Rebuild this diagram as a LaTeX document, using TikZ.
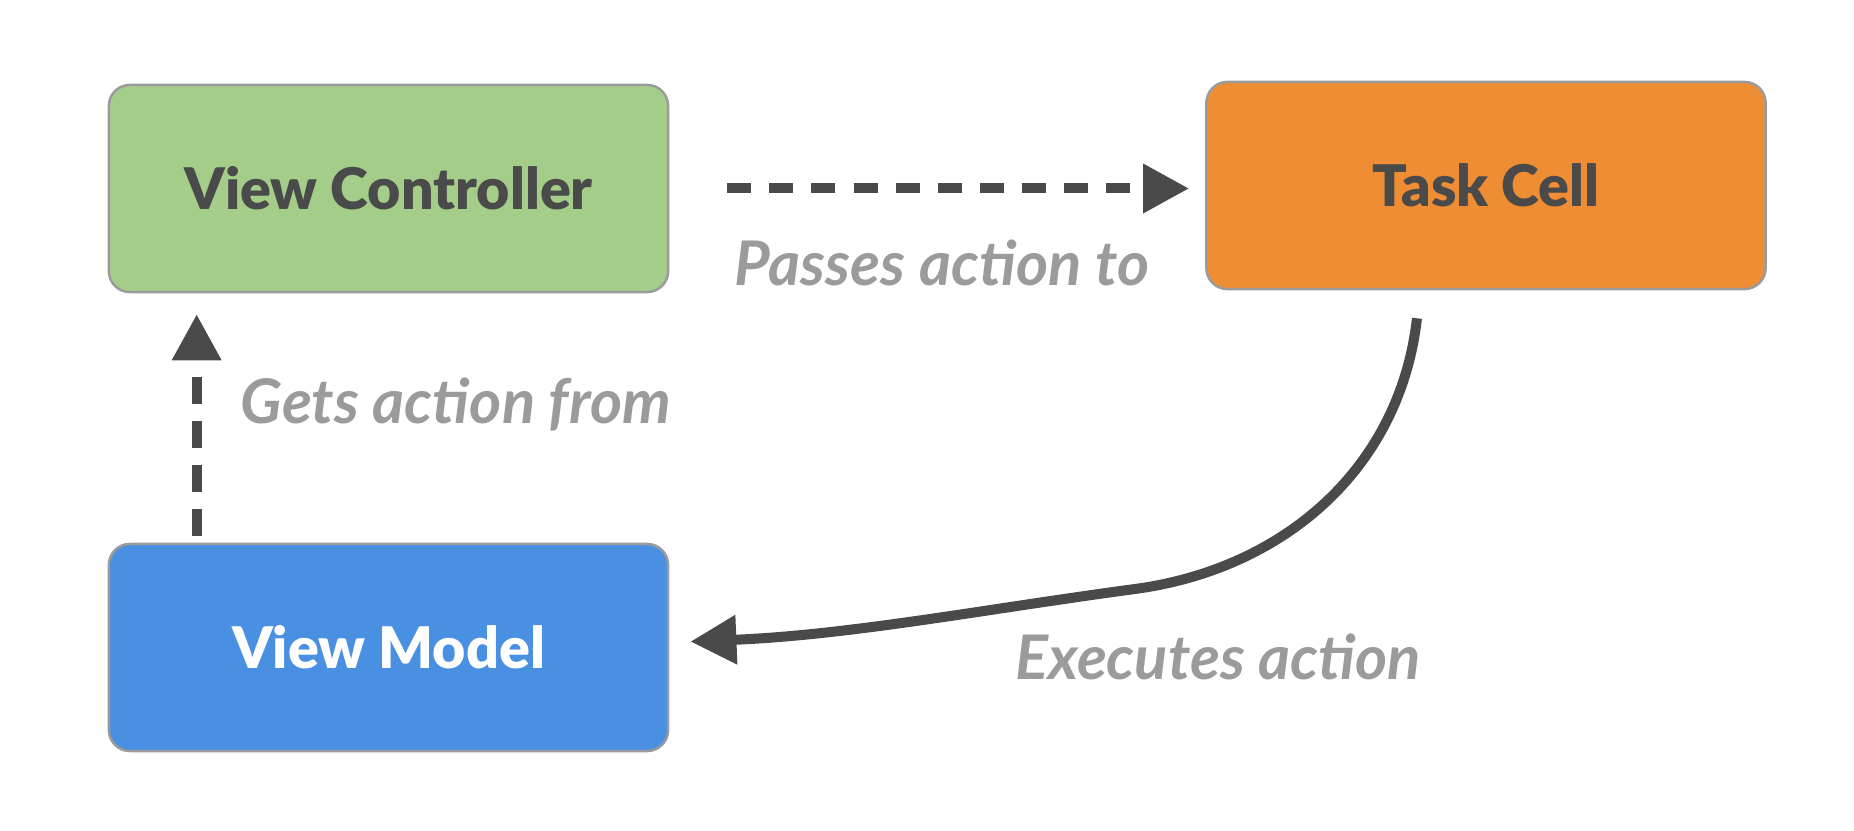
\documentclass[tikz,border=0pt]{standalone}
\usepackage{fontspec}
\setmainfont{Lato}
\newfontfamily\heavyfont{Lato Black}
\usetikzlibrary{arrows.meta,positioning}

\definecolor{vcgreen}{HTML}{A3CD89}
\definecolor{cellorange}{HTML}{EE8D33}
\definecolor{vmblue}{HTML}{4A90E2}
\definecolor{inkgray}{HTML}{4A4A4A}
\definecolor{labelgray}{HTML}{9B9B9B}

\begin{document}
\begin{tikzpicture}[
    x=0.01cm, y=-0.01cm,
    every node/.style={font=\fontsize{16.3}{19}\selectfont},
    box/.style={draw=labelgray, line width=0.7pt, rounded corners=0.21cm,
        minimum width=5.59cm, minimum height=2.07cm,
        font=\fontsize{16.3}{19}\selectfont\heavyfont, text=inkgray},
    edgelabel/.style={text=labelgray, font=\fontsize{17.5}{20}\selectfont\bfseries\itshape},
    flow/.style={draw=inkgray, line width=0.1cm,
        -{Triangle[length=0.46cm, width=0.47cm]}},
]

% Canvas (pixel units, y downwards)
\useasboundingbox (0,0) rectangle (1854,831);

% === Boxes ===
\node[box, fill=vcgreen] (vc) at (388.5,188.5) {View Controller};
\node[box, fill=cellorange] (cell) at (1486,185.5) {Task Cell};
\node[box, fill=vmblue, text=white] (vm) at (388.5,647.5) {View Model};

% === Connectors ===
% View Controller -> Task Cell
\draw[flow, dash pattern=on 0.24cm off 0.18cm, shorten <=0.58cm, shorten >=0.16cm]
    (vc.east) -- (vc.east -| cell.west);

% View Model -> View Controller
\draw[flow, dash pattern=on 0.27cm off 0.17cm, shorten <=0.07cm, shorten >=0.21cm]
    ([xshift=0.89cm]vm.north west) -- ([xshift=0.89cm]vc.south west);

% Task Cell -> View Model
\coordinate (bend) at (1135,589);
\draw[flow, shorten >=0.21cm]
    ([xshift=-0.69cm,yshift=-0.28cm]cell.south)
    .. controls +(-17,150) and +(149,-20) .. (bend)
    .. controls +(-149,20) and +(181,-7.5) .. ([yshift=0.05cm]vm.east);

% === Labels ===
\node[edgelabel] (passlbl) at (942,263) {Passes action to};
\node[edgelabel] (getlbl) at (456,404) {Gets action from};
\node[edgelabel] (execlbl) at (1218,657) {Executes action};

\end{tikzpicture}
\end{document}
